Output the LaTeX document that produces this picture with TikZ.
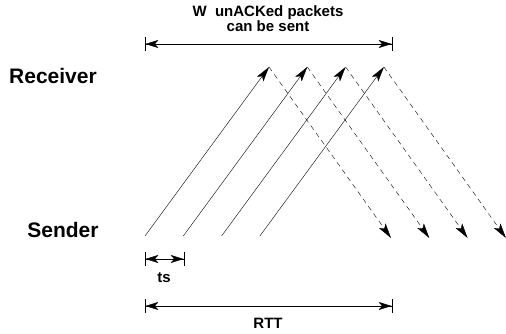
\documentclass[tikz,border=0pt]{standalone}
\usepackage{fontspec}
\setmainfont{Liberation Sans}
\usetikzlibrary{arrows.meta}

\begin{document}
\begin{tikzpicture}[x=1pt,y=1pt,
    pkt/.style={-{Stealth[length=15pt,width=8pt,inset=3.5pt]}},
    ack/.style={pkt,dash pattern=on 5pt off 4pt},
    span/.style={{Bar[width=14pt]Stealth[length=13pt,width=8pt,inset=3.5pt]}-{Stealth[length=13pt,width=8pt,inset=3.5pt]Bar[width=14pt]}},
    side/.style={font=\bfseries\fontsize{21}{24}\selectfont},
    lbl/.style={font=\bfseries\fontsize{15}{15}\selectfont, align=center}]
  \useasboundingbox (0,0) rectangle (506,334);
  \node[side] (recv) at (53,258) {Receiver};
  \node[side] (send) at (63,104) {Sender};
  % packets out, acks back
  \foreach \i in {0,...,3} {
    \coordinate (s\i) at (145+38.3*\i,98);
    \coordinate (r\i) at (269+38.3*\i,267);
    \coordinate (a\i) at (391+38.3*\i,96);
    \draw[pkt] (s\i) -- (r\i);
    \draw[ack] (r\i) -- (a\i);
  }
  \coordinate (w0) at (145,290);
  \coordinate (w1) at (392,290);
  \draw[span] (w0) -- (w1);
  \node[lbl] (win) at (268,315) {W\ \ unACKed packets\\can be sent};
  \coordinate (t0) at (145,75);
  \coordinate (t1) at (184,75);
  \draw[span] (t0) -- (t1);
  \node[lbl] (ts) at (164,56) {ts};
  \coordinate (q0) at (145,28);
  \coordinate (q1) at (392,28);
  \draw[span] (q0) -- (q1);
  \node[lbl] (rtt) at (268,11) {RTT};
\end{tikzpicture}
\end{document}
